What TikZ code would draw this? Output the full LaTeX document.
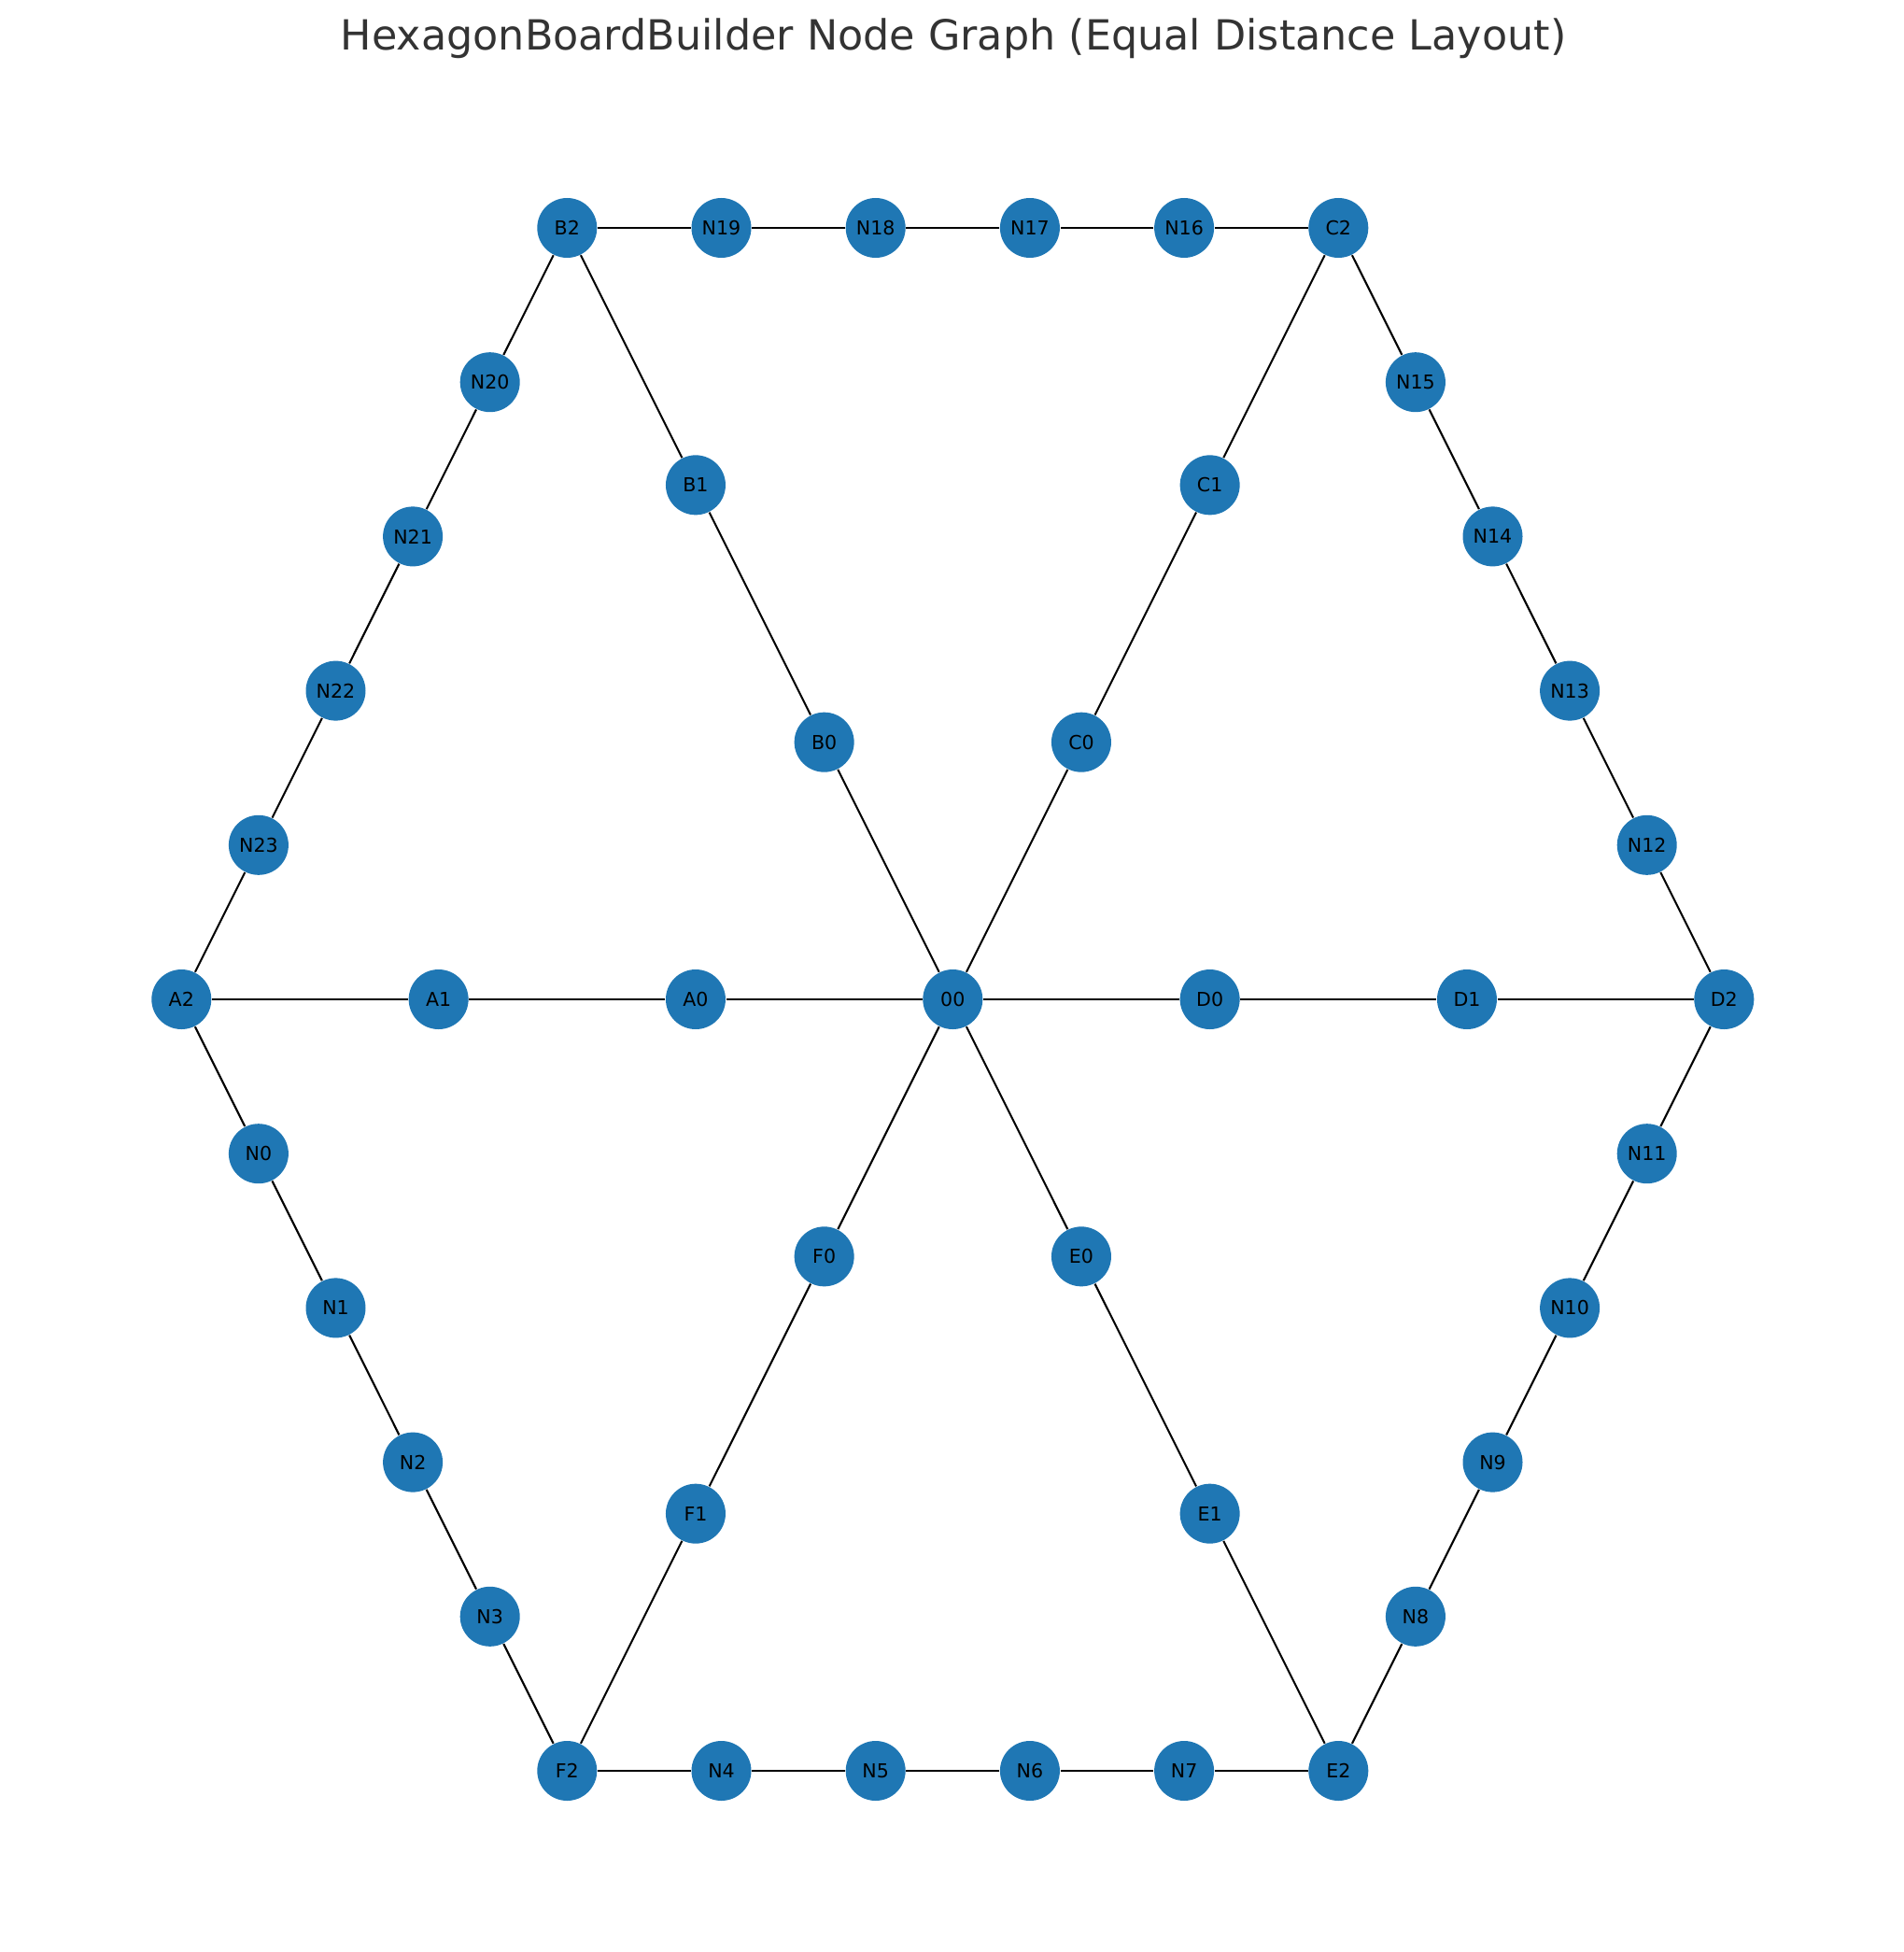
\documentclass[tikz,border=0pt]{standalone}
\usepackage{fontspec}
\setmainfont{DejaVu Sans}
\definecolor{nodeblue}{HTML}{1F77B4}
\definecolor{titlegray}{HTML}{333333}
\begin{document}
\begin{tikzpicture}[
  gnode/.style={circle, fill=nodeblue, draw=none, minimum size=0.64cm, inner sep=0pt, font=\fontsize{5.85}{7}\selectfont, text=black},
  gedge/.style={draw=black, line width=0.6pt}
]
\useasboundingbox (0,0) rectangle (20.39,-20.90);
\node[anchor=base, text=titlegray, font=\fontsize{12.65}{15}\selectfont] (title) at (10.21,-0.533) {HexagonBoardBuilder Node Graph (Equal Distance Layout)};
\begin{scope}[shift={(10.203,-10.70)}, x=8.26cm, y=8.26cm]
  % center and spokes
  \node[gnode] (00) at (0,0) {00};
  \node[gnode] (A0) at (-1/3,0) {A0};
  \node[gnode] (A1) at (-2/3,0) {A1};
  \node[gnode] (A2) at (-1,0) {A2};
  \node[gnode] (B0) at (-1/6,1/3) {B0};
  \node[gnode] (B1) at (-1/3,2/3) {B1};
  \node[gnode] (B2) at (-0.5,1) {B2};
  \node[gnode] (C0) at (1/6,1/3) {C0};
  \node[gnode] (C1) at (1/3,2/3) {C1};
  \node[gnode] (C2) at (0.5,1) {C2};
  \node[gnode] (D0) at (1/3,0) {D0};
  \node[gnode] (D1) at (2/3,0) {D1};
  \node[gnode] (D2) at (1,0) {D2};
  \node[gnode] (E0) at (1/6,-1/3) {E0};
  \node[gnode] (E1) at (1/3,-2/3) {E1};
  \node[gnode] (E2) at (0.5,-1) {E2};
  \node[gnode] (F0) at (-1/6,-1/3) {F0};
  \node[gnode] (F1) at (-1/3,-2/3) {F1};
  \node[gnode] (F2) at (-0.5,-1) {F2};
  % perimeter
  \node[gnode] (N0) at (-0.9,-0.2) {N0};
  \node[gnode] (N1) at (-0.8,-0.4) {N1};
  \node[gnode] (N2) at (-0.7,-0.6) {N2};
  \node[gnode] (N3) at (-0.6,-0.8) {N3};
  \node[gnode] (N4) at (-0.3,-1) {N4};
  \node[gnode] (N5) at (-0.1,-1) {N5};
  \node[gnode] (N6) at (0.1,-1) {N6};
  \node[gnode] (N7) at (0.3,-1) {N7};
  \node[gnode] (N8) at (0.6,-0.8) {N8};
  \node[gnode] (N9) at (0.7,-0.6) {N9};
  \node[gnode] (N10) at (0.8,-0.4) {N10};
  \node[gnode] (N11) at (0.9,-0.2) {N11};
  \node[gnode] (N12) at (0.9,0.2) {N12};
  \node[gnode] (N13) at (0.8,0.4) {N13};
  \node[gnode] (N14) at (0.7,0.6) {N14};
  \node[gnode] (N15) at (0.6,0.8) {N15};
  \node[gnode] (N16) at (0.3,1) {N16};
  \node[gnode] (N17) at (0.1,1) {N17};
  \node[gnode] (N18) at (-0.1,1) {N18};
  \node[gnode] (N19) at (-0.3,1) {N19};
  \node[gnode] (N20) at (-0.6,0.8) {N20};
  \node[gnode] (N21) at (-0.7,0.6) {N21};
  \node[gnode] (N22) at (-0.8,0.4) {N22};
  \node[gnode] (N23) at (-0.9,0.2) {N23};
\end{scope}
% spokes
\foreach \s in {A,B,C,D,E,F}{
  \draw[gedge] (00) -- (\s0);
  \draw[gedge] (\s0) -- (\s1);
  \draw[gedge] (\s1) -- (\s2);
}
% perimeter chain
\draw[gedge] (A2) -- (N0);
\draw[gedge] (N0) -- (N1);
\draw[gedge] (N1) -- (N2);
\draw[gedge] (N2) -- (N3);
\draw[gedge] (N3) -- (F2);
\draw[gedge] (F2) -- (N4);
\draw[gedge] (N4) -- (N5);
\draw[gedge] (N5) -- (N6);
\draw[gedge] (N6) -- (N7);
\draw[gedge] (N7) -- (E2);
\draw[gedge] (E2) -- (N8);
\draw[gedge] (N8) -- (N9);
\draw[gedge] (N9) -- (N10);
\draw[gedge] (N10) -- (N11);
\draw[gedge] (N11) -- (D2);
\draw[gedge] (D2) -- (N12);
\draw[gedge] (N12) -- (N13);
\draw[gedge] (N13) -- (N14);
\draw[gedge] (N14) -- (N15);
\draw[gedge] (N15) -- (C2);
\draw[gedge] (C2) -- (N16);
\draw[gedge] (N16) -- (N17);
\draw[gedge] (N17) -- (N18);
\draw[gedge] (N18) -- (N19);
\draw[gedge] (N19) -- (B2);
\draw[gedge] (B2) -- (N20);
\draw[gedge] (N20) -- (N21);
\draw[gedge] (N21) -- (N22);
\draw[gedge] (N22) -- (N23);
\draw[gedge] (N23) -- (A2);
\end{tikzpicture}
\end{document}
